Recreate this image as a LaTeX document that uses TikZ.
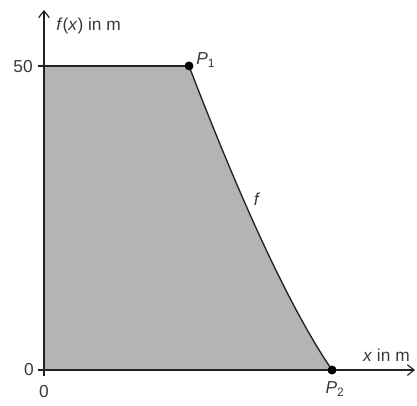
\documentclass[tikz,border=0pt]{standalone}
\usepackage{fontspec}
\setmainfont{Liberation Sans}
\usetikzlibrary{arrows.meta}
\definecolor{fillgray}{HTML}{B4B4B4}
\definecolor{inkc}{HTML}{222222}
\definecolor{textc}{HTML}{3A3A3A}
\begin{document}
\begin{tikzpicture}[x=0.75pt,y=-0.75pt,
  axis/.style={draw=inkc,line width=0.9pt},
  curvestyle/.style={draw=inkc,line width=1pt},
  pt/.style={circle,fill=black,inner sep=0pt,minimum size=6.5pt},
  lbl/.style={text=textc,font=\fontsize{13pt}{15pt}\selectfont,inner sep=0pt}]
\useasboundingbox (0,0) rectangle (417,405);
\coordinate (O) at (44,370);
\coordinate (Y50) at (44,66);
\coordinate (C1) at (244.3,210);
\coordinate (C2) at (292,311.3);
\node[pt] (P1) at (189,66) {};
\node[pt] (P2) at (332,370) {};
% fill
\fill[fillgray] (O) -- (Y50) -- (P1.center) .. controls (C1) and (C2) .. (P2.center) -- cycle;
% 50 line
\draw[axis] (38,66) -- (P1.center);
% curve
\draw[curvestyle] (P1.center) .. controls (C1) and (C2) .. (P2.center);
% axes
\coordinate (xl) at (38,370);
\coordinate (xe) at (415,370);
\coordinate (yb) at (44,376);
\coordinate (ye) at (44,10);
\draw[axis,-{Straight Barb[length=5pt,width=8pt]}] (xl) -- (xe);
\draw[axis,-{Straight Barb[length=5pt,width=8pt]}] (yb) -- (ye);
\node[pt] at (P1) {};
\node[pt] at (P2) {};
% labels
\node[lbl,anchor=east] (l50) at (33,67) {50};
\node[lbl,anchor=east] (l0y) at (34,370) {0};
\node[lbl] (l0x) at (44,392) {0};
\node[lbl,anchor=west] (fx) at (56,26) {\textit{f}(\textit{x}) in m};
\node[lbl,anchor=east] (xm) at (410,355) {\textit{x} in m};
\node[lbl,anchor=south west] (lp1) at (196,68) {\textit{P}\textsubscript{1}};
\node[lbl] (lp2) at (335,389) {\textit{P}\textsubscript{2}};
\node[lbl] (lf) at (257,199) {\textit{f}};
\end{tikzpicture}
\end{document}
